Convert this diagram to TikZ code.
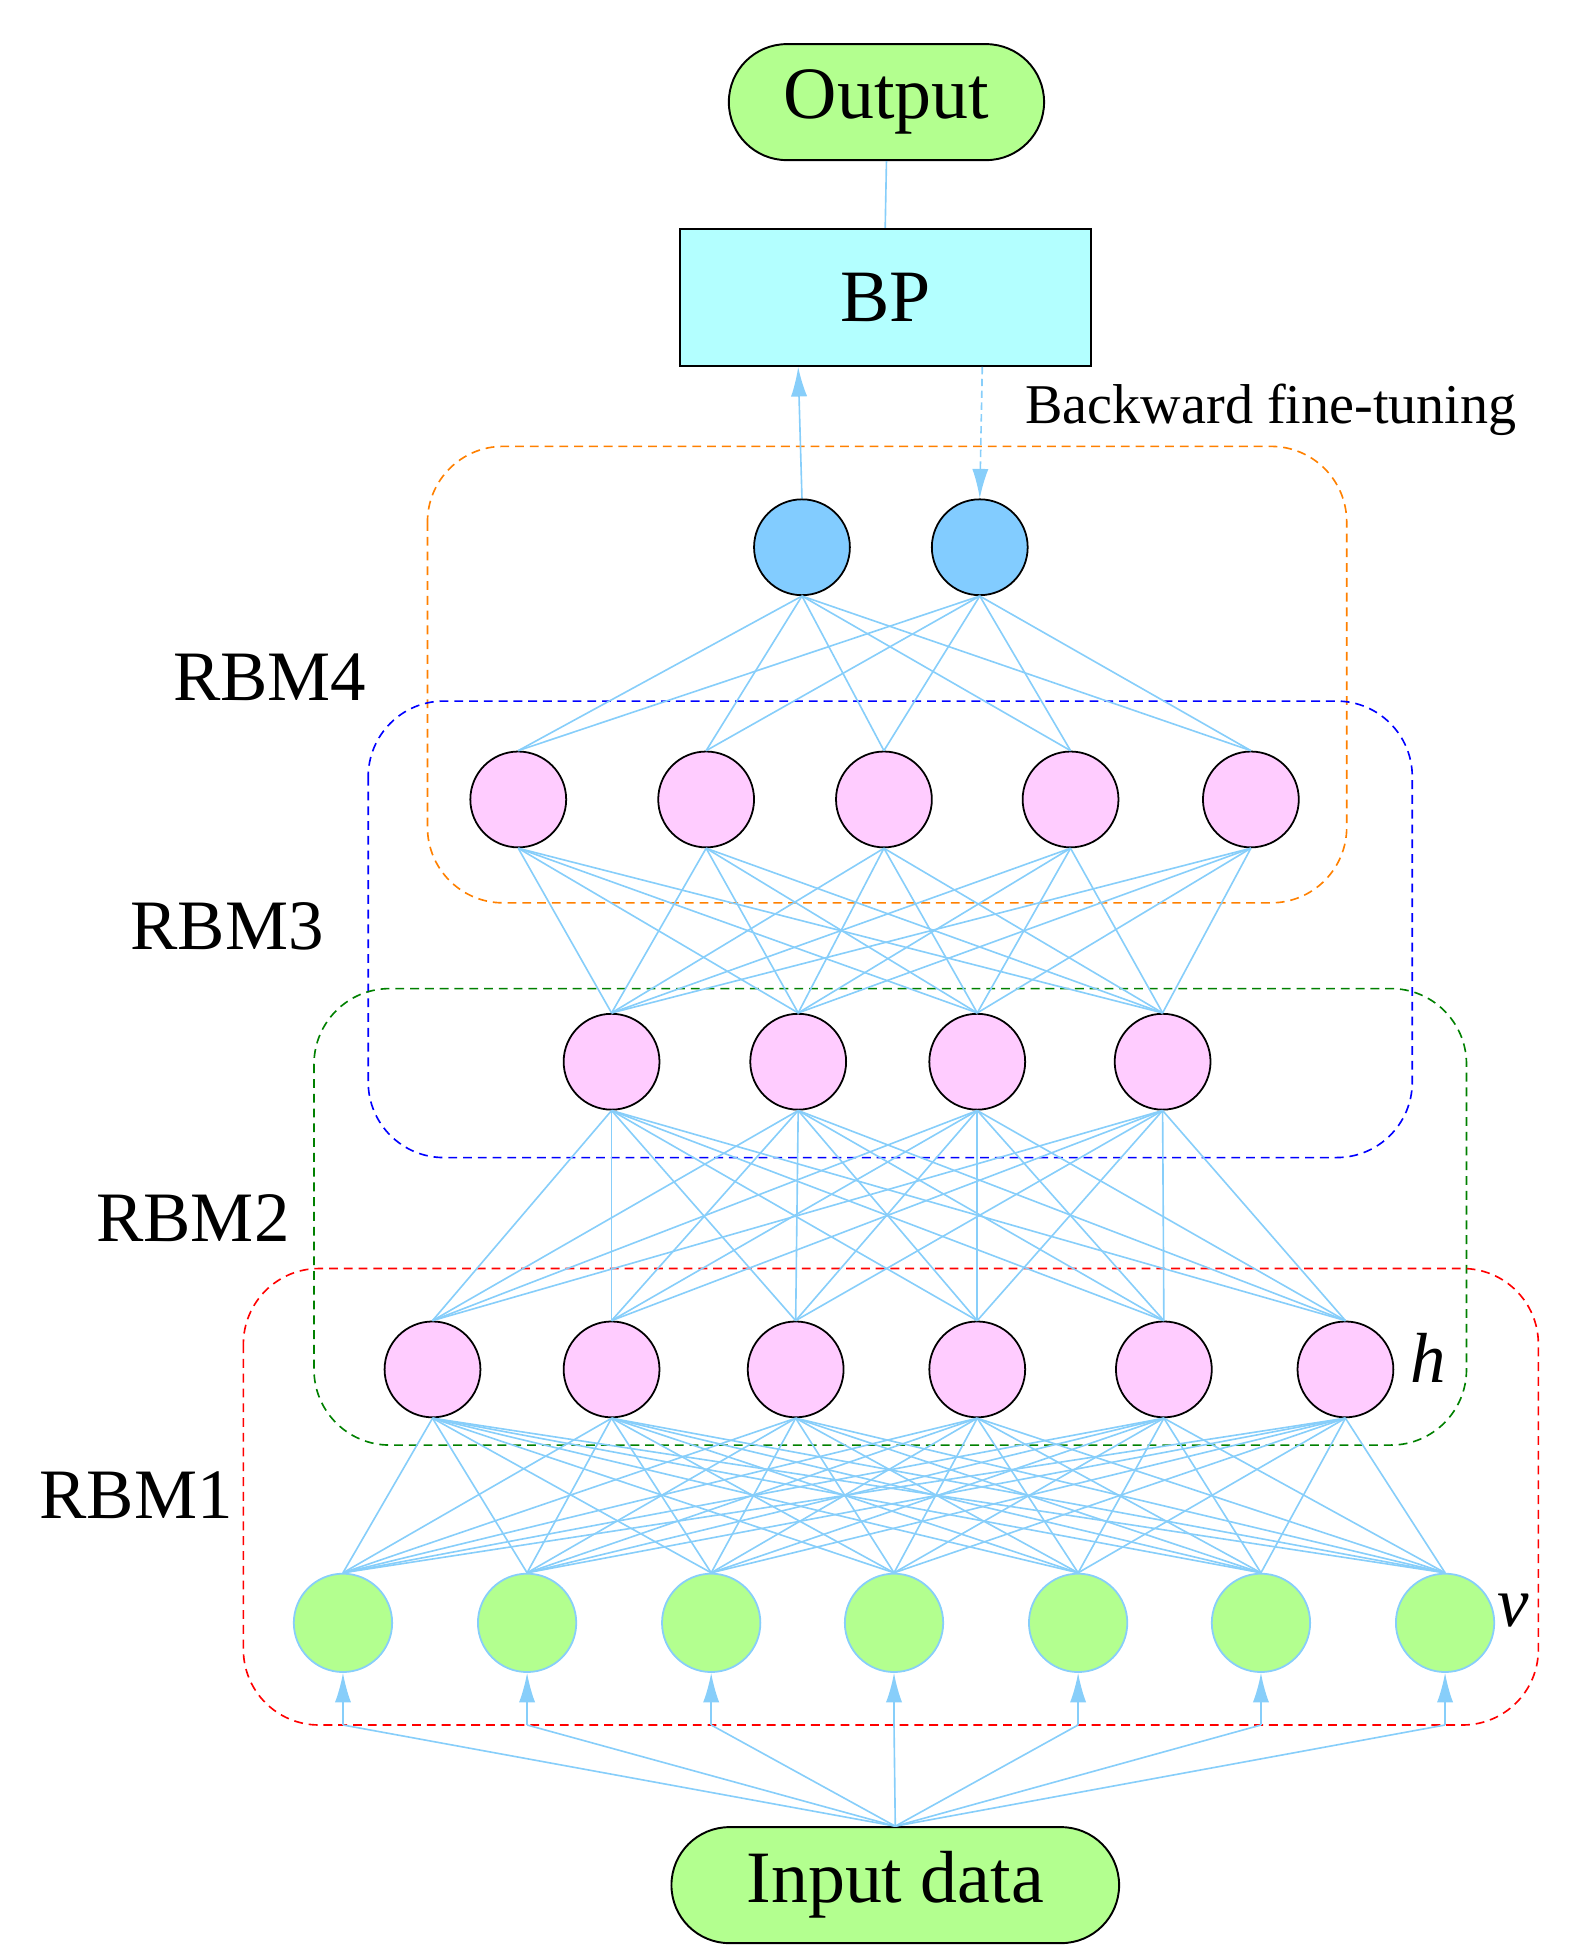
\documentclass[tikz,border=0pt]{standalone}
\usepackage{fontspec}
\setmainfont{Liberation Serif}
\usetikzlibrary{arrows.meta}
\definecolor{lb}{RGB}{135,206,250}
\definecolor{pk}{RGB}{255,204,255}
\definecolor{gr}{RGB}{179,255,143}
\definecolor{bl}{RGB}{130,204,255}
\definecolor{cy}{RGB}{179,255,255}
\begin{document}
\begin{tikzpicture}[x=0.03cm,y=-0.03cm,
 neur/.style={circle,draw=black,line width=1.2pt,minimum size=2.28cm,inner sep=0pt},
 pn/.style={neur,fill=pk},
 tn/.style={neur,fill=bl},
 vn/.style={circle,draw=lb,line width=1.2pt,fill=gr,minimum size=2.34cm,inner sep=0pt},
 con/.style={draw=lb,line width=1.1pt},
 arr/.style={con,-{Latex[length=20pt,width=11pt]}},
 box/.style={dashed,line width=1.1pt,rounded corners=1.8cm,dash pattern=on 6pt off 4pt},
 lab/.style={font=\fontsize{48}{56}\selectfont},
 term/.style={rounded corners=1.38cm,draw=black,line width=1.3pt,fill=gr,font=\fontsize{50}{58}\selectfont,inner sep=0pt,minimum height=2.76cm}]
\useasboundingbox (0,0) rectangle (1245,1552);
% boxes
\draw[box,draw=orange] (339,354) rectangle (1068,716);
\draw[box,draw=blue] (292,556) rectangle (1120,918);
\draw[box,draw=black!50!green] (249,784) rectangle (1163,1146);
\draw[box,draw=red] (193,1006) rectangle (1220,1368);
% nodes
\node[term,minimum width=7.5cm] (out) at (703,81) {Output};
\node[draw=black,line width=1.3pt,fill=cy,minimum width=9.78cm,minimum height=3.27cm,font=\fontsize{50}{58}\selectfont] (bp) at (702,236) {BP};
\node[term,minimum width=10.65cm] (in) at (710,1495) {Input data};
\foreach \x [count=\i] in {636,777} \node[tn] (t\i) at (\x,434) {};
\foreach \x [count=\i] in {411,560,701,849,992} \node[pn] (a\i) at (\x,634) {};
\foreach \x [count=\i] in {485,633,775,922} \node[pn] (b\i) at (\x,842) {};
\foreach \x [count=\i] in {343,485,631,775,923,1067} \node[pn] (c\i) at (\x,1086) {};
\foreach \x [count=\i] in {272,418,564,709,855,1000,1146} \node[vn] (v\i) at (\x,1287) {};
% connections
\foreach \i in {1,2} \foreach \j in {1,...,5} \draw[con] (t\i.south) -- (a\j.north);
\foreach \i in {1,...,5} \foreach \j in {1,...,4} \draw[con] (a\i.south) -- (b\j.north);
\foreach \i in {1,...,4} \foreach \j in {1,...,6} \draw[con] (b\i.south) -- (c\j.north);
\foreach \i in {1,...,6} \foreach \j in {1,...,7} \draw[con] (c\i.south) -- (v\j.north);
\foreach \x [count=\i] in {272,418,564,709,855,1000,1146} {
  \coordinate (p\i) at (\x,1368);
  \draw[con] (in.north) -- (p\i);
  \draw[arr] (p\i) -- (v\i.south);
}
\draw[con] (out.south) -- (bp.north);
\coordinate (bpl) at (633,291);
\coordinate (bpr) at (779,291);
\draw[arr] (t1.north) -- (bpl);
\draw[arr,dash pattern=on 5pt off 3pt] (bpr) -- (t2.north);
% labels
\node[font=\fontsize{38}{44}\selectfont] (bf) at (1008,325) {Backward fine-tuning};
\node[lab] (r4) at (214,537) {RBM4};
\node[lab] (r3) at (180,735) {RBM3};
\node[lab] (r2) at (153,966) {RBM2};
\node[lab] (r1) at (108,1186) {RBM1};
\node[lab,font=\fontsize{48}{56}\selectfont\itshape] (hl) at (1133,1077) {h};
\node[lab,font=\fontsize{48}{56}\selectfont\itshape] (vl) at (1200,1277) {v};
\end{tikzpicture}
\end{document}
